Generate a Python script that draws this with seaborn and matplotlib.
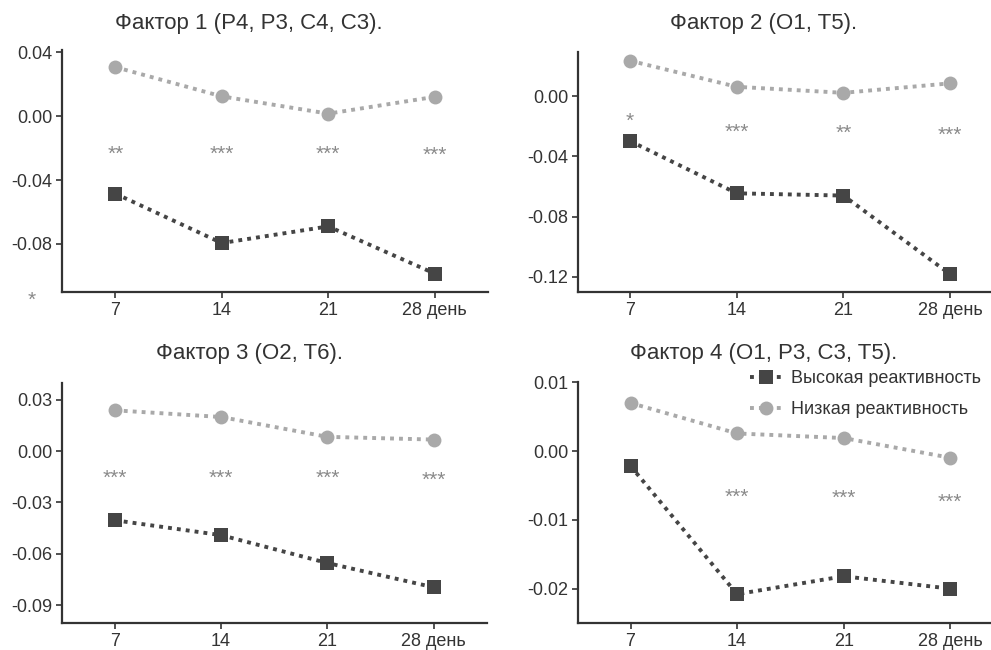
import matplotlib
matplotlib.use("Agg")
import matplotlib.pyplot as plt
import matplotlib.transforms as mtransforms
import seaborn as sns
import pandas as pd

# ---- data ----
days = ["7", "14", "21", "28 день"]
groups = ["Высокая реактивность", "Низкая реактивность"]
titles = ["Фактор 1 (P4, P3, C4, C3).", "Фактор 2 (O1, T5).",
          "Фактор 3 (O2, T6).", "Фактор 4 (O1, P3, C3, T5)."]

f1_high = [-0.0485, -0.0794, -0.069, -0.0985]
f1_low = [0.0306, 0.0123, 0.0015, 0.012]
f1_stars = ["**", "***", "***", "***"]
f1_star_y = [-0.022, -0.022, -0.022, -0.023]

f2_high = [-0.0298, -0.0645, -0.066, -0.1182]
f2_low = [0.0235, 0.0062, 0.0022, 0.0085]
f2_stars = ["*", "***", "**", "***"]
f2_star_y = [-0.0149, -0.0222, -0.0227, -0.024]

f3_high = [-0.0404, -0.0491, -0.0654, -0.0796]
f3_low = [0.0239, 0.020, 0.0084, 0.0068]
f3_stars = ["***", "***", "***", "***"]
f3_star_y = [-0.014, -0.014, -0.014, -0.0155]

f4_high = [-0.00217, -0.0208, -0.0182, -0.0200]
f4_low = [0.0070, 0.00257, 0.0019, -0.00096]
f4_stars = ["", "***", "***", "***"]
f4_star_y = [0.0, -0.00628, -0.0064, -0.0070]

f1_yticks = [0.04, 0.00, -0.04, -0.08]
f2_yticks = [0.00, -0.04, -0.08, -0.12]
f3_yticks = [0.03, 0.00, -0.03, -0.06, -0.09]
f4_yticks = [0.01, 0.00, -0.01, -0.02]

# ---- style ----
sns.set_style("ticks")
plt.rcParams["font.family"] = ["Liberation Sans", "DejaVu Sans"]
plt.rcParams["axes.unicode_minus"] = False

DARK = "#454545"
LIGHT = "#a9a9a9"
STAR = "#8a8a8a"
AXC = "#333333"

fig = plt.figure(figsize=(9.91, 6.5), dpi=100)

panels = [
    dict(high=f1_high, low=f1_low, stars=f1_stars, sy=f1_star_y, yt=f1_yticks,
         pos=[0.0626, 0.5508, 0.4298, 0.3723], ylim=(-0.11, 0.0413), xlim=(-0.5, 3.5),
         title_xy=(249, 23)),
    dict(high=f2_high, low=f2_low, stars=f2_stars, sy=f2_star_y, yt=f2_yticks,
         pos=[0.5830, 0.5508, 0.4170, 0.3692], ylim=(-0.130, 0.0293), xlim=(-0.49, 3.383),
         title_xy=(764, 23)),
    dict(high=f3_high, low=f3_low, stars=f3_stars, sy=f3_star_y, yt=f3_yticks,
         pos=[0.0623, 0.0415, 0.4288, 0.3688], ylim=(-0.1005, 0.0397), xlim=(-0.5, 3.5),
         title_xy=(249, 353)),
    dict(high=f4_high, low=f4_low, stars=f4_stars, sy=f4_star_y, yt=f4_yticks,
         pos=[0.5836, 0.0415, 0.4164, 0.3713], ylim=(-0.025, 0.0101), xlim=(-0.49, 3.383),
         title_xy=(764, 353)),
]

W, H = 991, 650
for i, p in enumerate(panels):
    ax = fig.add_axes(p["pos"])
    df = pd.DataFrame({
        "x": list(range(len(days))) * 2,
        "value": p["high"] + p["low"],
        "group": [groups[0]] * len(days) + [groups[1]] * len(days),
    })
    sns.lineplot(data=df, x="x", y="value", hue="group", style="group",
                 palette={groups[0]: DARK, groups[1]: LIGHT},
                 markers={groups[0]: "s", groups[1]: "o"},
                 dashes={groups[0]: (1, 1.3), groups[1]: (1, 1.3)},
                 linewidth=2.8, markersize=10, markeredgewidth=0,
                 ax=ax, legend=(i == 3))
    for line in ax.get_lines():
        line.set_dash_capstyle("butt")
    star_tr = mtransforms.offset_copy(ax.transData, fig=fig, x=0, y=-2, units="points")
    for xi, (s, y) in enumerate(zip(p["stars"], p["sy"])):
        if s:
            ax.text(xi, y, s, color=STAR, fontsize=15, ha="center", va="center",
                    transform=star_tr)
    ax.set_xlim(*p["xlim"])
    ax.set_ylim(*p["ylim"])
    ax.set_xticks(range(len(days)))
    ax.set_xticklabels(days)
    ax.set_yticks(p["yt"])
    ax.set_yticklabels([f"{v:.2f}" for v in p["yt"]])
    ax.set_xlabel("")
    ax.set_ylabel("")
    for side in ["top", "right"]:
        ax.spines[side].set_visible(False)
    for side in ["left", "bottom"]:
        ax.spines[side].set_color(AXC)
        ax.spines[side].set_linewidth(1.6)
    ax.tick_params(axis="both", direction="out", length=4, width=1.2, color=AXC,
                   labelcolor=AXC, labelsize=13, pad=3)
    fig.text(p["title_xy"][0] / W, 1 - p["title_xy"][1] / H, titles[i],
             ha="center", va="center", fontsize=16, color=AXC)
    if i == 3:
        leg = ax.legend(loc="upper left", bbox_to_anchor=(750 / W, 1 - 370 / H),
                        bbox_transform=fig.transFigure, frameon=False,
                        fontsize=13, handlelength=1.8, handletextpad=0.45,
                        labelspacing=0.8, borderpad=0, borderaxespad=0)
        for t in leg.get_texts():
            t.set_color(AXC)

fig.text(32 / W, 1 - 300 / H, "*", color=STAR, fontsize=15, ha="center", va="center")

fig.savefig("out.png", dpi=100)
